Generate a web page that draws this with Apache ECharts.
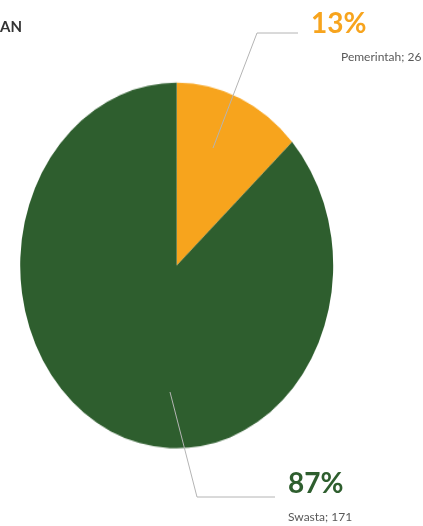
<!DOCTYPE html>
<html>
<head>
<meta charset="utf-8">
<script src="https://cdn.jsdelivr.net/npm/echarts@6/dist/echarts.min.js"></script>
<style>
  html, body { margin: 0; padding: 0; background: #fff; }
  #wrap { position: relative; width: 423px; height: 526px; overflow: hidden; }
  /* the pie in the source is an ellipse: draw it circular and stretch it vertically */
  #pie { position: absolute; left: 0; top: 0; width: 423px; height: 450.34px; transform: scaleY(1.168); transform-origin: 0 0; }
  #labels { position: absolute; left: 0; top: 0; width: 423px; height: 526px; pointer-events: none; }
</style>
</head>
<body>
<div id="wrap">
  <div id="pie"></div>
  <div id="labels"></div>
</div>
<script>
// data
const titleText = 'AN'
const categories = ['Pemerintah', 'Swasta']
const values = [26, 171]
const colors = ['#F7A41D', '#2E5E2E']

const STRETCH = 1.168
const CX = 176.7, CY = 265.5, R = 156.5
const FONT = 'Lato, "Open Sans", sans-serif'

// label placement (Excel-style leader lines)
const labelPos = [
  { x: 311, y: 6, indent: 30, line: [[213, 148], [257, 33], [298, 33]] },
  { x: 288, y: 466, indent: 0, line: [[170, 392], [197, 497], [275, 497]] }
]

const total = values.reduce((a, b) => a + b, 0)
const pieData = categories.map((name, i) => ({
  name,
  value: values[i],
  itemStyle: { color: colors[i] }
}))

const pieChart = echarts.init(document.getElementById('pie'), null, { renderer: 'canvas' })
pieChart.setOption({
  animation: false,
  series: [{
    type: 'pie',
    silent: true,
    center: [CX, CY / STRETCH],
    radius: R,
    startAngle: 90,
    clockwise: true,
    label: { show: false },
    labelLine: { show: false },
    itemStyle: { borderWidth: 0 },
    data: pieData
  }]
})

const labelChart = echarts.init(document.getElementById('labels'), null, { renderer: 'canvas' })
labelChart.setOption({
  animation: false,
  title: {
    text: titleText,
    left: 0,
    top: 20,
    padding: 0,
    textStyle: { fontFamily: FONT, fontSize: 15, fontWeight: 'bold', color: '#333333' }
  },
  series: [{
    type: 'pie',
    silent: true,
    center: [CX, CY],
    radius: R,
    startAngle: 90,
    clockwise: true,
    itemStyle: { color: 'rgba(0,0,0,0)' },
    data: categories.map((name, i) => ({
      name,
      value: values[i],
      label: {
        color: colors[i],
        rich: {
          pct: { fontFamily: FONT, fontSize: 28, fontWeight: 'bold', color: colors[i], lineHeight: 36 },
          nm: { fontFamily: FONT, fontSize: 12, color: '#595959', lineHeight: 30, padding: [0, 0, 0, labelPos[i].indent] }
        }
      }
    })),
    label: {
      show: true,
      position: 'outside',
      overflow: 'none',
      width: 200,
      formatter: (p) => `{pct|${Math.round(p.value / total * 100)}%}\n{nm|${p.name}; ${p.value}}`
    },
    labelLine: { show: true, lineStyle: { color: '#b4b4b4', width: 1 } },
    labelLayout: (params) => {
      const lp = labelPos[params.dataIndex]
      return {
        x: lp.x,
        y: lp.y,
        align: 'left',
        verticalAlign: 'top',
        labelLinePoints: lp.line
      }
    }
  }]
})
</script>
</body>
</html>
